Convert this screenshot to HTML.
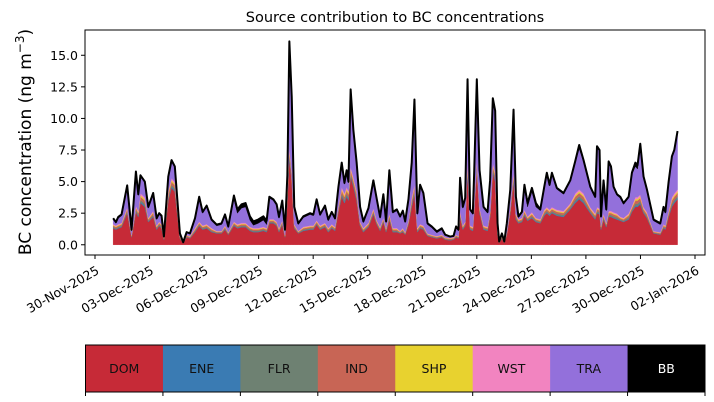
<!DOCTYPE html>
<html><head><meta charset="utf-8"><style>
html,body{margin:0;padding:0;background:#fff;}
svg{display:block;font-family:"DejaVu Sans","Liberation Sans",sans-serif;}
</style></head><body>
<svg id="chart" width="714" height="402" viewBox="0 0 714 402" xmlns="http://www.w3.org/2000/svg">
<text x="395" y="22" font-size="14.5" text-anchor="middle">Source contribution to BC concentrations</text>
<text transform="translate(31,142) rotate(-90)" font-size="17" text-anchor="middle">BC concentration (ng m<tspan dy="-7" font-size="12">−3</tspan><tspan dy="7">)</tspan></text>
<g id="layers"></g>
<g id="yaxis"></g>
<g id="xaxis"></g>
<rect x="85" y="30" width="620" height="225" fill="none" stroke="#000" stroke-width="1"/>
<g id="legend"></g>
</svg>
<script>
const NS="http://www.w3.org/2000/svg";
// time in days since 30-Nov-2025
const times=[1.00,1.15,1.28,1.46,1.77,2.01,2.25,2.38,2.50,2.74,2.93,3.20,3.39,3.53,3.66,3.79,4.03,4.21,4.39,4.67,4.85,5.04,5.22,5.50,5.73,5.92,6.14,6.41,6.69,6.96,7.15,7.33,7.64,7.83,8.06,8.28,8.52,8.71,8.98,9.26,9.44,9.59,9.81,9.99,10.12,10.30,10.45,10.58,10.69,10.82,10.96,11.18,11.46,11.83,12.01,12.19,12.38,12.65,12.83,13.02,13.20,13.39,13.57,13.72,13.84,13.94,14.06,14.21,14.39,14.58,14.76,15.04,15.31,15.50,15.68,15.86,16.01,16.19,16.38,16.60,16.78,16.93,17.06,17.24,17.42,17.57,17.73,17.88,18.06,18.29,18.52,18.80,19.07,19.26,19.53,19.72,19.86,19.99,20.08,20.23,20.36,20.49,20.63,20.78,20.85,21.00,21.15,21.37,21.59,21.73,21.88,22.01,22.14,22.23,22.38,22.51,22.65,22.84,23.02,23.15,23.29,23.48,23.62,23.79,24.03,24.25,24.49,24.71,24.85,25.00,25.13,25.40,25.77,26.14,26.41,26.63,26.87,27.24,27.51,27.61,27.75,27.83,27.97,28.12,28.25,28.38,28.52,28.71,28.89,29.07,29.35,29.53,29.72,29.84,29.99,30.17,30.36,30.72,31.09,31.27,31.37,31.55,31.73,31.86,32.04];
const dom=[1.3,1.2,1.3,1.4,2.5,0.6,2.6,2.2,3.3,3.0,1.8,2.2,1.2,1.5,1.3,0.4,3.5,4.5,4.2,0.5,0.12,0.6,0.5,1.0,1.5,1.2,1.3,1.0,0.9,0.9,1.2,0.8,1.5,1.3,1.4,1.4,1.1,1.0,1.0,1.1,1.0,1.7,1.7,1.5,1.0,1.6,0.6,3.5,7.0,5.0,1.3,0.9,1.1,1.2,1.2,1.6,1.2,1.4,1.0,1.3,1.1,2.6,3.8,3.3,3.8,3.5,5.4,4.6,3.5,1.5,1.0,1.4,2.4,1.6,1.1,1.8,1.0,2.0,1.0,1.0,0.9,1.0,0.8,1.6,3.0,4.0,1.0,1.3,1.2,0.7,0.6,0.5,0.6,0.4,0.35,0.4,0.6,0.5,2.2,1.2,1.5,6.0,1.2,1.1,2.5,6.0,2.5,1.2,1.1,2.2,5.7,5.0,0.8,0.15,0.5,0.15,0.8,2.5,5.1,2.0,1.7,1.8,2.3,1.9,2.1,1.8,1.7,2.3,2.5,2.3,2.5,2.3,2.2,2.8,3.3,3.6,3.3,2.5,2.0,2.5,2.4,1.2,2.0,1.4,2.2,2.2,2.1,2.0,1.9,1.8,2.0,2.6,3.0,3.0,3.2,2.5,2.1,0.9,0.8,1.3,1.2,2.2,3.0,3.3,3.6];
const ene=[.04,.04,.04,.04,.06,.02,.06,.06,.1,.1,.04,.06,.04,.04,.04,.02,.1,.1,.1,.02,.01,.02,.02,.04,.04,.04,.04,.04,.02,.02,.04,.02,.04,.04,.04,.04,.04,.04,.04,.04,.04,.04,.04,.04,.04,.04,.02,.1,.1,.1,.04,.02,.04,.04,.04,.04,.04,.04,.04,.04,.04,.06,.1,.1,.1,.1,.1,.1,.1,.04,.04,.04,.06,.04,.04,.04,.04,.06,.04,.04,.02,.04,.02,.04,.1,.1,.04,.04,.04,.02,.02,.02,.02,.02,.02,.02,.02,.02,.06,.04,.04,.1,.04,.04,.06,.1,.06,.04,.04,.06,.1,.1,.02,.01,.02,.01,.02,.06,.1,.06,.04,.04,.06,.04,.06,.04,.04,.06,.06,.06,.06,.06,.06,.06,.1,.1,.1,.06,.06,.06,.06,.04,.06,.04,.06,.06,.06,.06,.04,.04,.06,.06,.1,.1,.1,.06,.06,.02,.02,.04,.04,.06,.1,.1,.1];
const flr=[.07,.07,.07,.07,.10,.04,.10,.10,.15,.15,.07,.10,.07,.07,.07,.04,.15,.15,.15,.04,.01,.04,.04,.07,.07,.07,.07,.07,.04,.04,.07,.04,.07,.07,.07,.07,.07,.07,.07,.07,.07,.07,.07,.07,.07,.07,.04,.15,.15,.15,.07,.04,.07,.07,.07,.07,.07,.07,.07,.07,.07,.10,.15,.15,.15,.15,.15,.15,.15,.07,.07,.07,.10,.07,.07,.07,.07,.10,.07,.07,.04,.07,.04,.07,.15,.15,.07,.07,.07,.04,.04,.04,.04,.04,.04,.04,.04,.04,.10,.07,.07,.15,.07,.07,.10,.15,.10,.07,.07,.10,.15,.15,.04,.01,.04,.01,.04,.10,.15,.10,.07,.07,.10,.07,.10,.07,.07,.10,.10,.10,.10,.10,.10,.10,.15,.15,.15,.10,.10,.10,.10,.07,.10,.07,.10,.10,.10,.10,.07,.07,.10,.10,.15,.15,.15,.10,.10,.04,.04,.07,.07,.10,.15,.15,.15];
const ind=[.10,.10,.10,.10,.15,.06,.15,.15,.25,.25,.10,.15,.10,.10,.10,.06,.25,.25,.25,.06,.02,.06,.06,.10,.10,.10,.10,.10,.06,.06,.10,.06,.10,.10,.10,.10,.10,.10,.10,.10,.10,.10,.10,.10,.10,.10,.06,.25,.25,.25,.10,.06,.10,.10,.10,.10,.10,.10,.10,.10,.10,.15,.25,.25,.25,.25,.25,.25,.25,.10,.10,.10,.15,.10,.10,.10,.10,.15,.10,.10,.06,.10,.06,.10,.25,.25,.10,.10,.10,.06,.06,.06,.06,.06,.06,.06,.06,.06,.15,.10,.10,.25,.10,.10,.15,.25,.15,.10,.10,.15,.25,.25,.06,.02,.06,.02,.06,.15,.25,.15,.10,.10,.15,.10,.15,.10,.10,.15,.15,.15,.15,.15,.15,.15,.25,.25,.25,.15,.15,.15,.15,.10,.15,.10,.15,.15,.15,.15,.10,.10,.15,.15,.25,.25,.25,.15,.15,.06,.06,.10,.10,.15,.25,.25,.25];
const shp=[.05,.05,.05,.05,.07,.03,.07,.07,.12,.12,.05,.07,.05,.05,.05,.03,.12,.12,.12,.03,.01,.03,.03,.05,.05,.05,.05,.05,.03,.03,.05,.03,.05,.05,.05,.05,.05,.05,.05,.05,.05,.05,.05,.05,.05,.05,.03,.12,.12,.12,.05,.03,.05,.05,.05,.05,.05,.05,.05,.05,.05,.07,.12,.12,.12,.12,.12,.12,.12,.05,.05,.05,.07,.05,.05,.05,.05,.07,.05,.05,.03,.05,.03,.05,.12,.12,.05,.05,.05,.03,.03,.03,.03,.03,.03,.03,.03,.03,.07,.05,.05,.12,.05,.05,.07,.12,.07,.05,.05,.07,.12,.12,.03,.01,.03,.01,.03,.07,.12,.07,.05,.05,.07,.05,.07,.05,.05,.07,.07,.07,.07,.07,.07,.07,.12,.12,.12,.07,.07,.07,.07,.05,.07,.05,.07,.07,.07,.07,.05,.05,.07,.07,.12,.12,.12,.07,.07,.03,.03,.05,.05,.07,.12,.12,.12];
const wst=[.07,.07,.07,.07,.10,.04,.10,.10,.15,.15,.07,.10,.07,.07,.07,.04,.15,.15,.15,.04,.01,.04,.04,.07,.07,.07,.07,.07,.04,.04,.07,.04,.07,.07,.07,.07,.07,.07,.07,.07,.07,.07,.07,.07,.07,.07,.04,.15,.15,.15,.07,.04,.07,.07,.07,.07,.07,.07,.07,.07,.07,.10,.15,.15,.15,.15,.15,.15,.15,.07,.07,.07,.10,.07,.07,.07,.07,.10,.07,.07,.04,.07,.04,.07,.15,.15,.07,.07,.07,.04,.04,.04,.04,.04,.04,.04,.04,.04,.10,.07,.07,.15,.07,.07,.10,.15,.10,.07,.07,.10,.15,.15,.04,.01,.04,.01,.04,.10,.15,.10,.07,.07,.10,.07,.10,.07,.07,.10,.10,.10,.10,.10,.10,.10,.15,.15,.15,.10,.10,.10,.10,.07,.10,.07,.10,.10,.10,.10,.07,.07,.10,.10,.15,.15,.15,.10,.10,.04,.04,.07,.07,.10,.15,.15,.15];
const tra=[.37,.17,.47,.57,1.62,.31,2.62,1.22,1.33,1.13,.77,1.32,.47,.57,.57,.03,1.03,1.33,1.13,.18,.01,.18,.18,.67,1.87,.97,1.37,.57,.41,.51,.77,.36,1.77,.87,1.17,1.27,.52,.22,.37,.52,.27,1.67,1.47,1.27,.77,1.47,.31,1.13,8.03,5.63,1.27,.51,.72,.87,.77,1.57,.77,1.27,.57,.87,.57,1.42,1.83,.73,1.23,.63,5.83,3.43,2.13,1.07,.42,1.07,2.12,1.57,.67,1.77,.42,3.32,1.17,1.37,1.06,1.27,.76,1.57,2.63,6.43,1.07,3.02,2.47,.71,.56,.26,.41,.18,.08,.08,.56,.41,2.52,1.37,1.77,6.23,1.17,.97,2.42,6.23,2.82,1.37,1.07,2.32,5.03,4.73,.61,.03,.18,.03,.61,1.27,4.73,1.22,.12,.37,1.67,.77,1.62,.87,.67,1.72,2.62,1.87,2.62,1.62,1.32,1.72,2.43,3.23,2.53,1.52,1.22,4.72,4.52,.62,2.52,.97,3.82,3.42,1.92,1.42,1.47,1.07,1.22,2.52,2.43,2.23,3.73,2.32,1.67,.81,.61,1.27,.97,2.22,3.13,3.33,4.53];
const bb=[.1,.1,.1,.1,.1,.1,.1,.1,.1,.1,.1,.1,.1,.1,.1,.03,.1,.1,.1,.03,.01,.03,.03,.1,.1,.1,.1,.1,.1,.1,.1,.1,.3,.3,.3,.3,.3,.3,.3,.3,.3,.1,.1,.1,.1,.1,.1,.1,.3,.3,.1,.1,.1,.1,.1,.1,.1,.1,.1,.1,.1,.1,.1,.1,.1,.1,.3,.3,.1,.1,.1,.1,.1,.1,.1,.1,.1,.1,.1,.1,.1,.1,.1,.1,.1,.3,.1,.1,.1,.1,.1,.1,.1,.03,.03,.03,.1,.1,.1,.1,.1,.1,.1,.1,.1,.1,.1,.1,.1,.1,.1,.1,.1,.02,.03,.02,.1,.1,.1,.1,.1,.1,.3,.3,.3,.3,.1,.1,.1,.1,.1,.1,.1,.1,.1,.3,.1,.1,.1,.1,.1,.1,.1,.1,.1,.1,.1,.1,.1,.1,.1,.1,.3,.3,.3,.1,.1,.1,.1,.1,.1,.1,.1,.1,.1];
const seriesNames=["DOM","ENE","FLR","IND","SHP","WST","TRA","BB"];
const seriesColors=["#c62a37","#3a7bb3","#6e8172","#c86555","#e8d22f","#f284c0","#9370db","#000000"];
const yTicks=[0,2.5,5,7.5,10,12.5,15];
const xTickDays=[0,3,6,9,12,15,18,21,24,27,30,33];
const xTickLabels=["30-Nov-2025","03-Dec-2025","06-Dec-2025","09-Dec-2025","12-Dec-2025","15-Dec-2025","18-Dec-2025","21-Dec-2025","24-Dec-2025","27-Dec-2025","30-Dec-2025","02-Jan-2026"];

const X0=85,X1=705,Y0=255,Y1=30, XMIN=-0.55,XMAX=33.55, YMIN=-0.81,YMAX=17.0;
const xs=t=>X0+(t-XMIN)/(XMAX-XMIN)*(X1-X0);
const ys=v=>Y0-(v-YMIN)/(YMAX-YMIN)*(Y0-Y1);
function mk(tag,attrs,parent){const e=document.createElementNS(NS,tag);for(const k in attrs)e.setAttribute(k,attrs[k]);parent.appendChild(e);return e;}

const layers=[dom,ene,flr,ind,shp,wst,tra,bb];
const gL=document.getElementById('layers');
let base=times.map(()=>0);
layers.forEach((arr,li)=>{
  const top=base.map((b,i)=>b+arr[i]);
  let d="M"+times.map((t,i)=>xs(t).toFixed(2)+","+ys(top[i]).toFixed(2)).join("L");
  for(let i=times.length-1;i>=0;i--) d+="L"+xs(times[i]).toFixed(2)+","+ys(base[i]).toFixed(2);
  d+="Z";
  const p=mk('path',{d:d,fill:seriesColors[li],stroke:seriesColors[li],'stroke-width':0.4},gL);
  
  
  base=top;
});
const totalLine=mk('path',{d:"M"+times.map((t,i)=>xs(t).toFixed(2)+","+ys(base[i]).toFixed(2)).join("L"),fill:"none",stroke:"#000","stroke-width":2,"stroke-linejoin":"round"},gL);



const gY=document.getElementById('yaxis');
yTicks.forEach(v=>{
  const y=ys(v);
  const tk=mk('line',{x1:X0-4,x2:X0,y1:y,y2:y,stroke:"#000"},gY);
  
  
  const tx=mk('text',{x:X0-7,y:y+4.5,'font-size':12.5,'text-anchor':'end'},gY);
  
  
  tx.textContent=v.toFixed(1);
});
const gX=document.getElementById('xaxis');
xTickDays.forEach((d,i)=>{
  const x=xs(d);
  const tk=mk('line',{x1:x,x2:x,y1:Y0,y2:Y0+4,stroke:"#000"},gX);
  
  
  const tx=mk('text',{transform:`translate(${x+5},${Y0+18}) rotate(-30)`,'font-size':12.5,'text-anchor':'end'},gX);
  
  
  tx.textContent=xTickLabels[i];
});

const gLeg=document.getElementById('legend');
const LX0=85.5,LX1=705,LY=345,LH=47, cw=(LX1-LX0)/seriesNames.length;
seriesNames.forEach((n,i)=>{
  const r=mk('rect',{x:LX0+i*cw,y:LY,width:cw+0.3,height:LH,fill:seriesColors[i]},gLeg);
  
  
  const t=mk('text',{x:LX0+i*cw+cw/2,y:LY+LH/2+4.5,'font-size':12.5,'text-anchor':'middle',fill:n==="BB"?"#fff":"#111"},gLeg);
  
  
  t.textContent=n;
});
const fr=mk('rect',{x:LX0,y:LY,width:LX1-LX0,height:LH,fill:"none",stroke:"#000"},gLeg);


for(let i=0;i<=seriesNames.length;i++){
  const x=LX0+i*cw;
  const tk=mk('line',{x1:x,x2:x,y1:LY+LH,y2:LY+LH+4,stroke:"#000"},gLeg);
  
  
}
</script>
</body></html>
